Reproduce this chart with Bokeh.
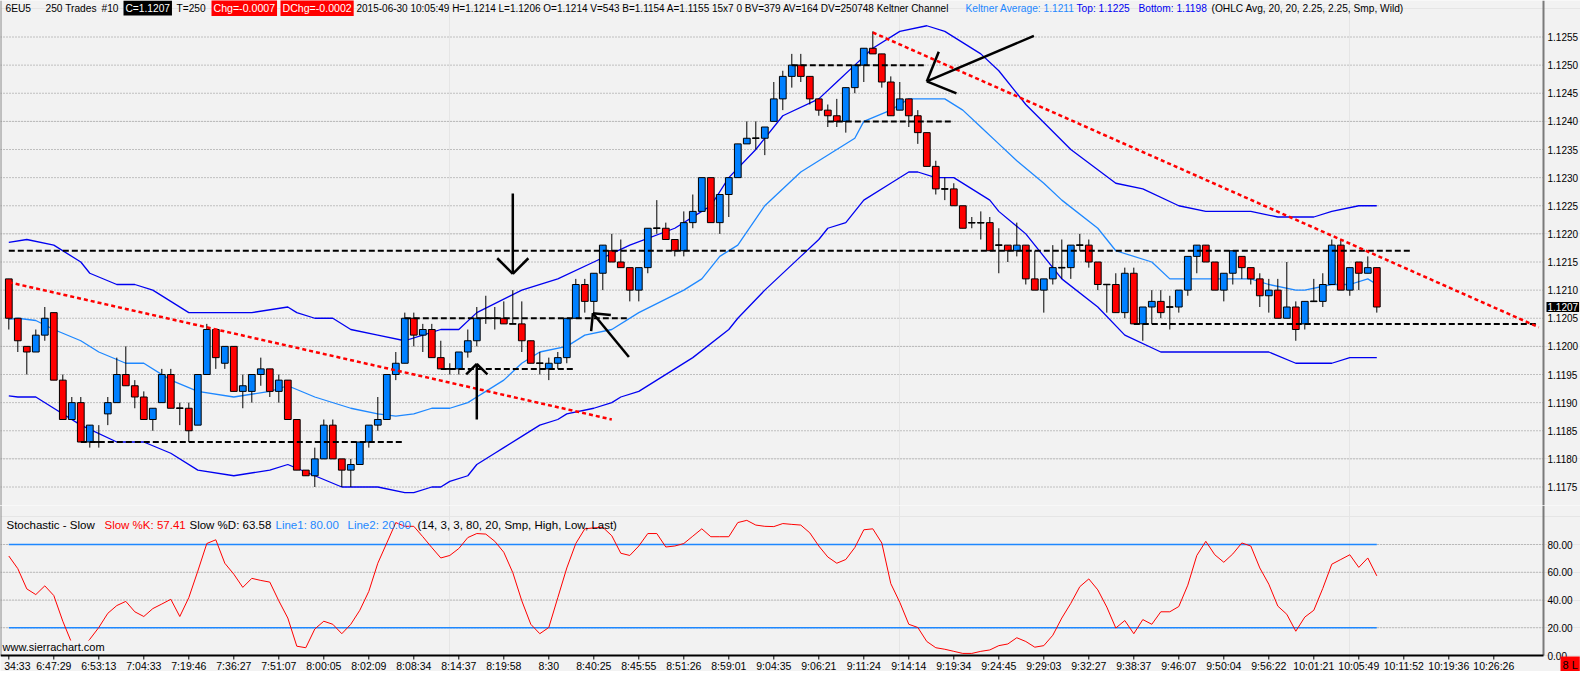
import math
from bokeh.plotting import figure
from bokeh.layouts import column
from bokeh.models import Range1d, Label, ColumnDataSource, Span
from bokeh.core.properties import value
from bokeh.embed import file_html
from bokeh.resources import INLINE

# ---------------- data ----------------
opens = [
    1.1212, 1.1205, 1.1200, 1.1199, 1.1202, 1.1206, 1.1194, 1.1187, 1.1190, 1.1183,
    1.1183, 1.1188, 1.1190, 1.1195, 1.1193, 1.1191, 1.1187, 1.1190, 1.1195, 1.1189,
    1.1189, 1.1186, 1.1195, 1.1203, 1.1197, 1.1200, 1.1192, 1.1192, 1.1195, 1.1196,
    1.1192, 1.1194, 1.1187, 1.1178, 1.1177, 1.1180, 1.1186, 1.1180, 1.1178, 1.1179,
    1.1183, 1.1186, 1.1187, 1.1195, 1.1197, 1.1205, 1.1202, 1.1203, 1.1198, 1.1196,
    1.1196, 1.1199, 1.1201, 1.1205, 1.1205, 1.1205, 1.1204, 1.1204, 1.1201, 1.1197,
    1.1196, 1.1197, 1.1198, 1.1205, 1.1211, 1.1208, 1.1213, 1.1217, 1.1215, 1.1214,
    1.1210, 1.1214, 1.1221, 1.1221, 1.1219, 1.1217, 1.1222, 1.1224, 1.1230, 1.1222,
    1.1227, 1.1230, 1.1236, 1.1237, 1.1237, 1.1240, 1.1244, 1.1248, 1.1250, 1.1248,
    1.1244, 1.1242, 1.1241, 1.1240, 1.1246, 1.1250, 1.1253, 1.1252, 1.1247, 1.1242,
    1.1244, 1.1241, 1.1238, 1.1232, 1.1228, 1.1228, 1.1225, 1.1222, 1.1222, 1.1222,
    1.1218, 1.1218, 1.1217, 1.1218, 1.1212, 1.1210, 1.1212, 1.1214, 1.1214, 1.1218,
    1.1218, 1.1215, 1.1211, 1.1211, 1.1206, 1.1213, 1.1204, 1.1207, 1.1208, 1.1207,
    1.1207, 1.1210, 1.1216, 1.1218, 1.1215, 1.1210, 1.1213, 1.1216, 1.1214, 1.1212,
    1.1209, 1.1210, 1.1205, 1.1207, 1.1204, 1.1208, 1.1208, 1.1211, 1.1218, 1.1210,
    1.1215, 1.1213, 1.1214]
highs = [
    1.1212, 1.1205, 1.1200, 1.1203, 1.1207, 1.1206, 1.1195, 1.1191, 1.1191, 1.1186,
    1.1186, 1.1191, 1.1198, 1.1200, 1.1194, 1.1192, 1.1189, 1.1196, 1.1196, 1.1190,
    1.1190, 1.1195, 1.1204, 1.1203, 1.1200, 1.1200, 1.1195, 1.1195, 1.1198, 1.1196,
    1.1195, 1.1194, 1.1187, 1.1178, 1.1182, 1.1187, 1.1187, 1.1180, 1.1180, 1.1183,
    1.1186, 1.1191, 1.1195, 1.1199, 1.1206, 1.1206, 1.1204, 1.1204, 1.1201, 1.1197,
    1.1199, 1.1203, 1.1207, 1.1209, 1.1207, 1.1208, 1.1210, 1.1208, 1.1201, 1.1199,
    1.1198, 1.1199, 1.1205, 1.1212, 1.1212, 1.1213, 1.1218, 1.1220, 1.1219, 1.1214,
    1.1214, 1.1221, 1.1226, 1.1222, 1.1219, 1.1224, 1.1227, 1.1230, 1.1230, 1.1227,
    1.1230, 1.1236, 1.1240, 1.1240, 1.1239, 1.1247, 1.1249, 1.1252, 1.1252, 1.1248,
    1.1244, 1.1243, 1.1244, 1.1246, 1.1250, 1.1253, 1.1256, 1.1252, 1.1248, 1.1247,
    1.1244, 1.1242, 1.1238, 1.1233, 1.1230, 1.1229, 1.1225, 1.1223, 1.1224, 1.1223,
    1.1221, 1.1218, 1.1222, 1.1218, 1.1217, 1.1212, 1.1218, 1.1219, 1.1218, 1.1220,
    1.1219, 1.1215, 1.1211, 1.1213, 1.1214, 1.1214, 1.1207, 1.1210, 1.1210, 1.1209,
    1.1210, 1.1216, 1.1218, 1.1218, 1.1215, 1.1213, 1.1217, 1.1216, 1.1214, 1.1213,
    1.1212, 1.1212, 1.1215, 1.1208, 1.1208, 1.1212, 1.1213, 1.1219, 1.1219, 1.1214,
    1.1215, 1.1216, 1.1214]
lows = [
    1.1203, 1.1199, 1.1195, 1.1199, 1.1201, 1.1194, 1.1187, 1.1187, 1.1183, 1.1182,
    1.1182, 1.1186, 1.1190, 1.1193, 1.1189, 1.1187, 1.1185, 1.1190, 1.1189, 1.1186,
    1.1183, 1.1186, 1.1195, 1.1196, 1.1196, 1.1192, 1.1189, 1.1190, 1.1193, 1.1191,
    1.1190, 1.1187, 1.1178, 1.1177, 1.1175, 1.1180, 1.1180, 1.1175, 1.1175, 1.1179,
    1.1182, 1.1185, 1.1187, 1.1194, 1.1197, 1.1200, 1.1199, 1.1198, 1.1196, 1.1195,
    1.1195, 1.1198, 1.1200, 1.1204, 1.1203, 1.1204, 1.1204, 1.1199, 1.1197, 1.1195,
    1.1194, 1.1196, 1.1197, 1.1205, 1.1206, 1.1206, 1.1210, 1.1215, 1.1214, 1.1208,
    1.1208, 1.1213, 1.1220, 1.1219, 1.1216, 1.1216, 1.1221, 1.1224, 1.1222, 1.1220,
    1.1223, 1.1230, 1.1236, 1.1235, 1.1234, 1.1240, 1.1242, 1.1246, 1.1247, 1.1243,
    1.1241, 1.1239, 1.1239, 1.1238, 1.1245, 1.1247, 1.1252, 1.1246, 1.1241, 1.1242,
    1.1239, 1.1236, 1.1232, 1.1227, 1.1226, 1.1225, 1.1221, 1.1221, 1.1219, 1.1217,
    1.1213, 1.1215, 1.1216, 1.1211, 1.1210, 1.1206, 1.1211, 1.1212, 1.1212, 1.1217,
    1.1214, 1.1210, 1.1206, 1.1206, 1.1205, 1.1204, 1.1201, 1.1204, 1.1205, 1.1203,
    1.1206, 1.1209, 1.1213, 1.1215, 1.1210, 1.1208, 1.1211, 1.1212, 1.1211, 1.1207,
    1.1206, 1.1205, 1.1205, 1.1201, 1.1203, 1.1208, 1.1207, 1.1211, 1.1210, 1.1209,
    1.1210, 1.1213, 1.1206]
closes = [
    1.1205, 1.1201, 1.1199, 1.1202, 1.1205, 1.1194, 1.1187, 1.1190, 1.1183, 1.1186,
    1.1183, 1.1190, 1.1195, 1.1193, 1.1191, 1.1187, 1.1189, 1.1195, 1.1189, 1.1189,
    1.1185, 1.1195, 1.1203, 1.1198, 1.1200, 1.1192, 1.1193, 1.1195, 1.1196, 1.1192,
    1.1194, 1.1187, 1.1178, 1.1177, 1.1180, 1.1186, 1.1180, 1.1178, 1.1179, 1.1183,
    1.1186, 1.1187, 1.1195, 1.1197, 1.1205, 1.1202, 1.1203, 1.1198, 1.1196, 1.1196,
    1.1199, 1.1201, 1.1205, 1.1205, 1.1205, 1.1204, 1.1204, 1.1201, 1.1197, 1.1197,
    1.1197, 1.1198, 1.1205, 1.1211, 1.1208, 1.1213, 1.1218, 1.1215, 1.1214, 1.1210,
    1.1214, 1.1221, 1.1221, 1.1219, 1.1217, 1.1222, 1.1224, 1.1230, 1.1222, 1.1227,
    1.1230, 1.1236, 1.1237, 1.1237, 1.1239, 1.1244, 1.1248, 1.1250, 1.1248, 1.1244,
    1.1242, 1.1241, 1.1240, 1.1246, 1.1250, 1.1253, 1.1252, 1.1247, 1.1241, 1.1244,
    1.1241, 1.1238, 1.1232, 1.1228, 1.1228, 1.1225, 1.1221, 1.1222, 1.1222, 1.1217,
    1.1218, 1.1217, 1.1218, 1.1212, 1.1210, 1.1212, 1.1214, 1.1214, 1.1218, 1.1218,
    1.1215, 1.1211, 1.1211, 1.1206, 1.1213, 1.1204, 1.1207, 1.1208, 1.1206, 1.1207,
    1.1210, 1.1216, 1.1218, 1.1215, 1.1210, 1.1213, 1.1217, 1.1214, 1.1212, 1.1209,
    1.1210, 1.1205, 1.1207, 1.1203, 1.1208, 1.1208, 1.1211, 1.1218, 1.1210, 1.1214,
    1.1213, 1.1214, 1.1207]
bars = list(range(1, len(closes) + 1))

# Keltner channel (read at sample bars)
kc_top_x = [1, 3, 6, 9, 10, 13, 15, 17, 19, 21, 24, 28, 32, 33, 35, 37, 39, 42, 45, 47, 49, 51, 53, 58,
            62, 66, 70, 75, 78, 79, 81, 84, 87, 91, 93, 95, 97, 100, 103, 105, 107, 109, 111, 114, 119,
            124, 127, 131, 134, 139, 142, 146, 148, 151, 153]
kc_top_y = [1.12185, 1.1219, 1.1218, 1.1215, 1.1213, 1.1211, 1.1211, 1.1210, 1.1208, 1.1206, 1.1206,
            1.1206, 1.1207, 1.1206, 1.1205, 1.1205, 1.1203, 1.1202, 1.1201, 1.1202, 1.1203, 1.1203,
            1.1206, 1.1210, 1.1212, 1.1215, 1.1218, 1.1221, 1.1224, 1.1225, 1.1230, 1.1235, 1.1241,
            1.1244, 1.1247, 1.1250, 1.1253, 1.1256, 1.1257, 1.1256, 1.1254, 1.1252, 1.1249, 1.1243,
            1.1235, 1.1229, 1.1228, 1.1225, 1.1224, 1.1224, 1.1223, 1.1223, 1.1224, 1.1225, 1.1225]
kc_mid_x = [1, 2, 4, 6, 9, 11, 14, 16, 19, 22, 26, 30, 32, 35, 39, 42, 44, 46, 48, 50, 52, 53, 54, 56,
            58, 60, 63, 65, 68, 71, 76, 78, 80, 82, 85, 89, 93, 95, 96, 99, 101, 102, 105, 107, 109,
            111, 113, 116, 118, 122, 124, 128, 130, 133, 136, 139, 141, 144, 145, 148, 150, 152, 153]
kc_mid_y = [1.12048, 1.1205, 1.12046, 1.1203, 1.1201, 1.1199, 1.1197, 1.1197, 1.1194, 1.1192, 1.1191,
            1.1192, 1.1193, 1.1191, 1.1189, 1.1188, 1.11876, 1.1188, 1.1189, 1.1189, 1.1190, 1.1191,
            1.1192, 1.1194, 1.1197, 1.1199, 1.1200, 1.1202, 1.1203, 1.1206, 1.1210, 1.1212, 1.1216,
            1.1218, 1.1225, 1.1231, 1.1235, 1.1237, 1.1240, 1.1242, 1.1244, 1.1244, 1.1244, 1.1242,
            1.1239, 1.1236, 1.1233, 1.1229, 1.1226, 1.1221, 1.1217, 1.1215, 1.1212, 1.1212, 1.1212,
            1.1212, 1.1211, 1.1210, 1.1210, 1.1211, 1.1211, 1.1212, 1.1211]
kc_bot_x = [1, 2, 4, 6, 9, 13, 16, 19, 22, 26, 30, 32, 35, 38, 42, 45, 46, 48, 49, 50, 52, 53, 55, 56,
            58, 60, 62, 63, 66, 68, 69, 71, 73, 75, 77, 81, 82, 85, 89, 91, 92, 94, 96, 99, 101, 102,
            104, 106, 108, 110, 111, 114, 118, 122, 125, 129, 135, 139, 141, 144, 146, 148, 150, 152, 153]
kc_bot_y = [1.11912, 1.1191, 1.1191, 1.1189, 1.1186, 1.1183, 1.1183, 1.1181, 1.1178, 1.1177, 1.1178,
            1.1179, 1.1177, 1.1175, 1.1175, 1.1174, 1.1174, 1.1175, 1.1175, 1.1176, 1.1177, 1.1179,
            1.1181, 1.1182, 1.1184, 1.1186, 1.1187, 1.1188, 1.1189, 1.1190, 1.1191, 1.1192, 1.1194,
            1.1196, 1.1198, 1.1203, 1.1205, 1.1210, 1.1216, 1.1219, 1.1221, 1.1222, 1.1226, 1.1229,
            1.1231, 1.1231, 1.1230, 1.1230, 1.1228, 1.1226, 1.1224, 1.1220, 1.1212, 1.1207, 1.1202,
            1.1199, 1.1199, 1.1199, 1.1199, 1.1197, 1.1197, 1.1197, 1.1198, 1.1198, 1.1198]

# Slow stochastic %K, one value per bar
stoch_k = [
    71.7, 62.6, 48.0, 43.9, 50.2, 43.2, 24.7, 8.9, 5.0, 11.7,
    20.2, 30.4, 36.0, 39.0, 31.5, 28.1, 33.8, 37.1, 40.5, 28.1,
    41.7, 60.8, 80.7, 83.4, 66.5, 58.6, 49.1, 55.6, 54.1, 52.9,
    39.4, 27.0, 6.7, 5.6, 19.1, 24.7, 22.5, 15.7, 22.5, 32.6,
    46.2, 66.5, 81.1, 95.8, 93.1, 93.1, 85.6, 77.8, 70.3, 72.1,
    77.1, 85.0, 87.9, 87.5, 82.3, 74.4, 59.7, 39.4, 22.5, 15.7,
    20.2, 41.7, 63.1, 80.7, 91.3, 92.0, 92.4, 86.3, 73.7, 72.1,
    78.9, 87.9, 87.9, 78.2, 78.9, 80.7, 86.0, 91.3, 85.6, 85.6,
    85.6, 95.8, 97.4, 94.0, 93.1, 92.9, 95.1, 94.5, 94.0, 88.4,
    78.9, 71.0, 66.5, 69.2, 77.8, 90.6, 91.3, 81.1, 51.8, 38.3,
    22.5, 20.2, 10.1, 5.6, 4.5, 3.0, 1.5, 1.5, 3.0, 4.0,
    7.1, 8.3, 12.8, 10.1, 6.0, 7.1, 14.6, 27.0, 37.6, 49.6,
    55.2, 47.3, 34.9, 19.8, 25.2, 15.7, 25.9, 22.5, 31.5, 31.5,
    35.3, 50.7, 72.1, 82.3, 72.6, 67.2, 73.2, 81.1, 78.9, 63.1,
    51.4, 35.6, 29.7, 17.5, 27.7, 32.6, 48.4, 65.8, 69.2, 72.6,
    63.5, 70.3, 57.4]
stoch_levels = [80, 20]

# drawn studies
trend_x0 = [1, 97]
trend_y0 = [1.12114, 1.12558]
trend_x1 = [68, 171]
trend_y1 = [1.11870, 1.12034]

level_price = [1.1217, 1.1183, 1.1205, 1.1196, 1.1250, 1.1240, 1.1204]
level_x0 = [1, 9, 45, 49, 88, 92, 126]
level_x1 = [157, 45, 70, 64, 103, 106, 171]

arrow_tail_x = [57, 53, 69.9, 114.9]
arrow_tail_y = [1.12272, 1.11870, 1.11981, 1.12552]
arrow_tip_x = [57, 53, 65.9, 103.0]
arrow_tip_y = [1.12129, 1.11969, 1.12059, 1.12471]
arrow_head_px = [22, 15, 18, 32]

price_ticks = [1.1175, 1.1180, 1.1185, 1.1190, 1.1195, 1.1200, 1.1205, 1.1210, 1.1215,
               1.1220, 1.1225, 1.1230, 1.1235, 1.1240, 1.1245, 1.1250, 1.1255]
stoch_ticks = [0, 20, 40, 60, 80]
stoch_grid = [20, 40, 60, 80]

time_label_bars = [1, 6, 11, 16, 21, 26, 31, 36, 41, 46, 51, 56, 61, 66, 71, 76, 81, 86, 91, 96,
                   101, 106, 111, 116, 121, 126, 131, 136, 141, 146, 151, 156, 161, 166]
time_labels = ["6:34:33", "6:47:29", "6:53:13", "7:04:33", "7:19:46", "7:36:27", "7:51:07",
               "8:00:05", "8:02:09", "8:08:34", "8:14:37", "8:19:58", "8:30", "8:40:25",
               "8:45:55", "8:51:26", "8:59:01", "9:04:35", "9:06:21", "9:11:24", "9:14:14",
               "9:19:34", "9:24:45", "9:29:03", "9:32:27", "9:38:37", "9:46:07", "9:50:04",
               "9:56:22", "10:01:21", "10:05:49", "10:11:52", "10:19:36", "10:26:26"]

# ---------------- layout & style ----------------
FONT = "Liberation Sans"
BG = "#F2F2F2"
UP = "#0080FF"
DOWN = "#FF0000"
KC_BAND = "#0000F0"
KC_MID = "#1E88FF"
GRID = "#8C8C8C"
AXIS = "#7A7A7A"

W = 1580                       # canvas width (frame covers whole canvas)
PX_X = 9.0                     # pixels per bar
x_start = bars[0] - 8.3 / PX_X
x_end = x_start + W / PX_X


def X(px):
    return x_start + px / PX_X


x_axis = X(1543)               # right price-scale border
x_lab = X(1547)                # price-scale labels

PRICE_H = 505
PX_Y = 56250.0                 # pixels per price unit
p_end = price_ticks[-1] + 36.5 / PX_Y
p_start = p_end - PRICE_H / PX_Y


def YP(px):
    return p_end - px / PX_Y


ST_H = 166
ST_ZERO_PX = 150               # zero line, px from top of the stochastic canvas
ST_PX = (ST_ZERO_PX - 39) / 80.0
st_end = ST_ZERO_PX / ST_PX
st_start = st_end - ST_H / ST_PX


def YS(px):
    return st_end - px / ST_PX


xr = Range1d(x_start, x_end)
common = dict(output_backend="svg", toolbar_location=None, x_axis_location=None,
              y_axis_location=None, min_border_left=0, min_border_right=0, min_border_top=0,
              min_border_bottom=0, background_fill_color=BG, border_fill_color=BG,
              outline_line_color=None)

# ---------------- price pane ----------------
p = figure(width=W, height=PRICE_H, x_range=xr, y_range=Range1d(p_start, p_end), **common)

n = len(price_ticks)
p.segment(x0=[x_start] * n, y0=price_ticks, x1=[x_axis] * n, y1=price_ticks,
          line_color=GRID, line_width=1, line_dash="1 2")
p.add_layout(Span(location=x_axis, dimension="height", line_color=AXIS, line_width=2))
p.add_layout(Span(location=x_start, dimension="height", line_color="#8A8A8A", line_width=2))
p.text(x=[x_lab] * n, y=price_ticks, text=["%.4f" % t for t in price_ticks],
       text_font=value(FONT), text_font_size=value("10px"), text_color="black",
       text_baseline="middle", text_align="left")

# Keltner channel
p.line(kc_top_x, kc_top_y, line_color=KC_BAND, line_width=1.3)
p.line(kc_bot_x, kc_bot_y, line_color=KC_BAND, line_width=1.3)
p.line(kc_mid_x, kc_mid_y, line_color=KC_MID, line_width=1.3)

# candles
body_top = [max(o, c) for o, c in zip(opens, closes)]
body_bot = [min(o, c) for o, c in zip(opens, closes)]
colors = [UP if c > o else DOWN for o, c in zip(opens, closes)]
src = ColumnDataSource(dict(x=bars, h=highs, l=lows, top=body_top, bot=body_bot, color=colors))
p.segment(x0="x", y0="h", x1="x", y1="l", source=src, line_color="black", line_width=1)
p.vbar(x="x", width=0.75, top="top", bottom="bot", fill_color="color", line_color="black",
       line_width=1, source=src)
doji_x = [b for b, o, c in zip(bars, opens, closes) if o == c]
doji_y = [o for o, c in zip(opens, closes) if o == c]
p.segment(x0=[x - 0.375 for x in doji_x], y0=doji_y, x1=[x + 0.375 for x in doji_x], y1=doji_y,
          line_color="black", line_width=1.5)

# drawn horizontal levels and trend lines
p.segment(x0=level_x0, y0=level_price, x1=level_x1, y1=level_price,
          line_color="black", line_width=2, line_dash="6 3")
p.segment(x0=trend_x0, y0=trend_y0, x1=trend_x1, y1=trend_y1,
          line_color="#FF0000", line_width=2.5, line_dash="4 3")

# arrows (shaft + open head with 45 degree wings)
wx0, wy0, wx1, wy1 = [], [], [], []
for tx, ty, hx, hy, L in zip(arrow_tail_x, arrow_tail_y, arrow_tip_x, arrow_tip_y, arrow_head_px):
    dx = (tx - hx) * PX_X
    dy = (ty - hy) * PX_Y
    nn = math.hypot(dx, dy)
    ux, uy = dx / nn, dy / nn
    for a in (math.pi / 4, -math.pi / 4):
        vx = ux * math.cos(a) - uy * math.sin(a)
        vy = ux * math.sin(a) + uy * math.cos(a)
        wx0.append(hx)
        wy0.append(hy)
        wx1.append(hx + L * vx / PX_X)
        wy1.append(hy + L * vy / PX_Y)
p.segment(x0=arrow_tail_x, y0=arrow_tail_y, x1=arrow_tip_x, y1=arrow_tip_y,
          line_color="black", line_width=2.5)
p.segment(x0=wx0, y0=wy0, x1=wx1, y1=wy1, line_color="black", line_width=2.5)

# header line
header = [
    (5, "6EU5", "black", None, "10.2px"),
    (45, "250 Trades", "black", None, "10.2px"),
    (101, "#10", "black", None, "10.2px"),
    (123, "C=1.1207", "white", "black", "10.2px"),
    (176, "T=250", "black", None, "10.2px"),
    (211, "Chg=-0.0007", "white", "#FF0000", "10.6px"),
    (280, "DChg=-0.0002", "white", "#FF0000", "10.6px"),
    (356, "2015-06-30 10:05:49 H=1.1214 L=1.1206 O=1.1214 V=543 B=1.1154 A=1.1155 15x7 0 "
          "BV=379 AV=164 DV=250748 Keltner Channel", "black", None, "10px"),
    (965, "Keltner Average: 1.1211", KC_MID, None, "10.2px"),
    (1076, "Top: 1.1225", KC_BAND, None, "10.2px"),
    (1138, "Bottom: 1.1198", KC_BAND, None, "10.2px"),
    (1211, "(OHLC Avg, 20, 20, 2.25, 2.25, Smp, Wild)", "black", None, "10.2px"),
]
for sx, txt, col, bg, fs in header:
    lab = Label(x=X(sx), y=YP(7.5), text=txt, text_color=col,
                text_font=FONT, text_font_size=fs, text_baseline="middle")
    if bg is not None:
        lab.background_fill_color = bg
        lab.padding = 2
    p.add_layout(lab)

# last price marker on the price scale
p.add_layout(Label(x=X(1546), y=closes[-1], text="%.4f" % closes[-1], text_color="white",
                   background_fill_color="black", padding=1, text_font=FONT,
                   text_font_size="10px", text_baseline="middle"))

# ---------------- stochastic pane ----------------
s = figure(width=W, height=ST_H, x_range=xr, y_range=Range1d(st_start, st_end), **common)

ng = len(stoch_grid)
s.segment(x0=[x_start] * ng, y0=stoch_grid, x1=[x_axis] * ng, y1=stoch_grid,
          line_color=GRID, line_width=1, line_dash="1 2")
s.segment(x0=[x_axis], y0=[0], x1=[x_axis], y1=[st_end], line_color=AXIS, line_width=2)
s.segment(x0=[x_start], y0=[0], x1=[x_start], y1=[st_end], line_color="#8A8A8A", line_width=2)
s.text(x=[x_lab] * len(stoch_ticks), y=stoch_ticks, text=["%.2f" % t for t in stoch_ticks],
       text_font=value(FONT), text_font_size=value("10px"), text_color="black",
       text_baseline="middle", text_align="left")

for lv in stoch_levels:
    s.line([bars[0], bars[-1]], [lv, lv], line_color=KC_MID, line_width=1.6)
s.line(bars, stoch_k, line_color="#FF0000", line_width=1)

# time scale
s.segment(x0=[x_start], y0=[0], x1=[x_axis], y1=[0], line_color="black", line_width=2)
nt = len(time_label_bars)
s.segment(x0=time_label_bars, y0=[0] * nt, x1=time_label_bars, y1=[YS(ST_ZERO_PX + 4)] * nt,
          line_color="black", line_width=1)
# the first label sits at the left edge, where only its minutes:seconds part shows
lab_text = [time_labels[0].split(":", 1)[1]] + time_labels[1:]
lab_x = [X(30)] + time_label_bars[1:]
lab_align = ["right"] + ["center"] * (nt - 1)
s.text(x=lab_x, y=[YS(ST_ZERO_PX + 10)] * nt, text=lab_text, text_align=lab_align,
       text_font=value(FONT), text_font_size=value("10.5px"), text_color="black",
       text_baseline="middle")

st_header = [
    (6, "Stochastic - Slow", "black"),
    (104, "Slow %K: 57.41", "#FF0000"),
    (189, "Slow %D: 63.58", "black"),
    (275, "Line1: 80.00", KC_MID),
    (347, "Line2: 20.00", KC_MID),
    (417, "(14, 3, 3, 80, 20, Smp, High, Low, Last)", "black"),
]
for sx, txt, col in st_header:
    s.add_layout(Label(x=X(sx), y=YS(19), text=txt, text_color=col,
                       text_font=FONT, text_font_size="11.5px", text_baseline="middle"))

s.add_layout(Label(x=X(2), y=YS(ST_ZERO_PX - 9), text="www.sierrachart.com", text_color="black",
                   background_fill_color=BG, text_font=FONT, text_font_size="11px",
                   text_baseline="middle"))
s.add_layout(Label(x=X(1560), y=YS(ST_ZERO_PX + 9), text="8 L", text_color="black",
                   background_fill_color="#FF0000", padding=2, text_font=FONT,
                   text_font_size="11px", text_baseline="middle"))

layout = column(p, s)
open("out.html", "w").write(file_html(layout, INLINE))
